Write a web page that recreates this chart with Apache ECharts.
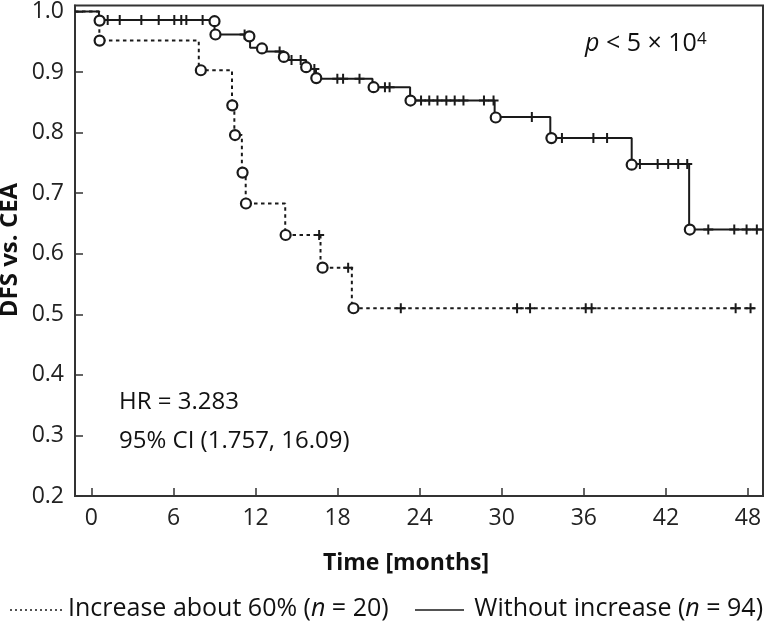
<!DOCTYPE html>
<html><head><meta charset="utf-8">
<script src="https://cdn.jsdelivr.net/npm/echarts@6/dist/echarts.min.js"></script>
<style>html,body{margin:0;padding:0;background:#fff}#c{width:765px;height:627px}</style>
</head><body><div id="c"></div>
<script>
const xTicks = [0, 6, 12, 18, 24, 30, 36, 42, 48];
const yTicks = [0.2, 0.3, 0.4, 0.5, 0.6, 0.7, 0.8, 0.9, 1.0];

// Increase about 60% (n = 20): step points [time, survival after the step]
const incStepTimes = [-1.2, 0.58, 7.85, 10.28, 10.45, 11.0, 11.28, 14.17, 16.75, 19.04, 48.55];
const incStepSurv  = [1.0, 0.952, 0.903, 0.845, 0.796, 0.734, 0.683, 0.631, 0.577, 0.510, 0.510];
const incEventTimes = [0.6, 8.0, 10.3, 10.5, 11.05, 11.3, 14.2, 16.9, 19.16];
const incEventSurv  = [0.952, 0.903, 0.845, 0.796, 0.734, 0.683, 0.631, 0.577, 0.510];
const incCensorTimes = [16.65, 18.77, 22.62, 31.12, 32.07, 36.14, 36.57, 47.1, 48.19];

// Without increase (n = 94)
const woStepTimes = [-1.2, 0.55, 9.0, 11.6, 12.5, 14.07, 15.7, 16.42, 20.55, 23.3, 29.48, 33.55, 39.5, 43.7, 49.1];
const woStepSurv  = [1.0, 0.986, 0.962, 0.940, 0.934, 0.920, 0.905, 0.889, 0.875, 0.853, 0.826, 0.791, 0.748, 0.640, 0.640];
const woEventTimes = [0.6, 9.0, 9.07, 11.55, 12.47, 14.07, 15.7, 16.44, 20.63, 23.33, 29.56, 33.63, 39.5, 43.75];
const woEventSurv  = [0.985, 0.984, 0.962, 0.959, 0.939, 0.925, 0.908, 0.890, 0.875, 0.853, 0.825, 0.791, 0.747, 0.640];
const woCensorTimes = [1.19, 2.07, 3.65, 4.92, 6.06, 6.57, 6.94, 8.13, 11.2, 13.76, 14.63, 15.3, 16.3, 17.98, 18.4, 19.6,
  21.46, 21.8, 24.1, 24.7, 25.3, 25.95, 26.56, 27.2, 28.7, 29.4, 32.2, 34.4, 36.7, 37.7,
  40.1, 41.4, 42.17, 42.9, 43.56, 45.1, 47.0, 47.9, 48.65];

function zip(a, b) { return a.map((v, i) => [v, b[i]]); }
function survAt(times, survs, t) {
  let s = survs[0];
  for (let i = 0; i < times.length; i++) { if (times[i] <= t) s = survs[i]; }
  return s;
}
const FONT = '"Open Sans", "Noto Sans", sans-serif';
const INK = '#1a1a1a';
const plusPath = 'path://M-1,-5H1V5H-1Z M-5,-1H5V1H-5Z';

const chart = echarts.init(document.getElementById('c'), null, {renderer: 'canvas'});
chart.setOption({
  animation: false,
  backgroundColor: '#fff',
  grid: {left: 75, right: 2, top: 4, bottom: 131, show: true, borderColor: '#333', borderWidth: 2, backgroundColor: 'transparent'},
  xAxis: {
    type: 'value', min: -1.2, max: 49.1,
    splitLine: {show: false},
    axisLine: {show: true, onZero: false, lineStyle: {color: '#333', width: 2}},
    axisTick: {show: true, inside: true, length: 8, customValues: xTicks, lineStyle: {color: '#333', width: 1.5}},
    axisLabel: {customValues: xTicks, fontSize: 23, fontFamily: FONT, color: '#222', margin: 11}
  },
  yAxis: {
    type: 'value', min: 0.2, max: 1.01,
    splitLine: {show: false},
    axisLine: {show: true, onZero: false, lineStyle: {color: '#333', width: 2}},
    axisTick: {show: true, inside: true, length: 8, customValues: yTicks, lineStyle: {color: '#333', width: 1.5}},
    axisLabel: {customValues: yTicks, fontSize: 23, fontFamily: FONT, color: '#222', margin: 11,
      formatter: v => v.toFixed(1)}
  },
  series: [
    {type: 'line', step: 'end', symbol: 'none', z: 2, data: zip(incStepTimes, incStepSurv),
      lineStyle: {color: INK, width: 2, type: [3.5, 3.5]}},
    {type: 'line', step: 'end', symbol: 'none', z: 2, data: zip(woStepTimes, woStepSurv),
      lineStyle: {color: INK, width: 2}},
    {type: 'scatter', symbol: plusPath, symbolSize: 10, z: 3,
      data: incCensorTimes.map(t => [t, survAt(incStepTimes, incStepSurv, t)]), itemStyle: {color: INK, opacity: 1}},
    {type: 'scatter', symbol: plusPath, symbolSize: 10, z: 3,
      data: woCensorTimes.map(t => [t, survAt(woStepTimes, woStepSurv, t)]), itemStyle: {color: INK, opacity: 1}},
    {type: 'scatter', symbol: 'circle', symbolSize: 10, z: 4, data: zip(incEventTimes, incEventSurv),
      itemStyle: {color: '#fff', borderColor: INK, borderWidth: 2.2, opacity: 1}},
    {type: 'scatter', symbol: 'circle', symbolSize: 10, z: 4, data: zip(woEventTimes, woEventSurv),
      itemStyle: {color: '#fff', borderColor: INK, borderWidth: 2.2, opacity: 1}}
  ],
  graphic: [
    {type: 'text', x: 10, y: 250, rotation: Math.PI / 2,
      style: {text: 'DFS vs. CEA', font: 'bold 24px ' + FONT, fill: '#111', textAlign: 'center', textVerticalAlign: 'middle'}},
    {type: 'text', x: 406, y: 563,
      style: {text: 'Time [months]', font: 'bold 23px ' + FONT, fill: '#111', textAlign: 'center', textVerticalAlign: 'middle'}},
    {type: 'text', x: 585, y: 44,
      style: {text: '{i|p}{r| < 5 × 10}{s|4}', textVerticalAlign: 'middle', textAlign: 'left',
        rich: {
          i: {font: 'italic 25px ' + FONT, fill: '#111'},
          r: {font: '25px ' + FONT, fill: '#111'},
          s: {font: '17px ' + FONT, fill: '#111', verticalAlign: 'top', padding: [0, 0, 10, 0]}
        }}},
    {type: 'text', x: 119, y: 402,
      style: {text: 'HR = 3.283', font: '24px ' + FONT, fill: '#111', textAlign: 'left', textVerticalAlign: 'middle'}},
    {type: 'text', x: 119, y: 441,
      style: {text: '95% CI (1.757, 16.09)', font: '24px ' + FONT, fill: '#111', textAlign: 'left', textVerticalAlign: 'middle'}},
    {type: 'line', shape: {x1: 10, y1: 610, x2: 62, y2: 610}, style: {stroke: INK, lineWidth: 1.5, lineDash: [2, 3]}},
    {type: 'text', x: 68, y: 609,
      style: {text: '{r|Increase about 60% (}{i|n}{r| = 20)}', textVerticalAlign: 'middle', textAlign: 'left',
        rich: {r: {font: '25px ' + FONT, fill: '#111'}, i: {font: 'italic 25px ' + FONT, fill: '#111'}}}},
    {type: 'line', shape: {x1: 415, y1: 610, x2: 464, y2: 610}, style: {stroke: INK, lineWidth: 1.5}},
    {type: 'text', x: 763, y: 609,
      style: {text: '{r|Without increase (}{i|n}{r| = 94)}', textVerticalAlign: 'middle', textAlign: 'right',
        rich: {r: {font: '25px ' + FONT, fill: '#111'}, i: {font: 'italic 25px ' + FONT, fill: '#111'}}}}
  ]
});
</script></body></html>
